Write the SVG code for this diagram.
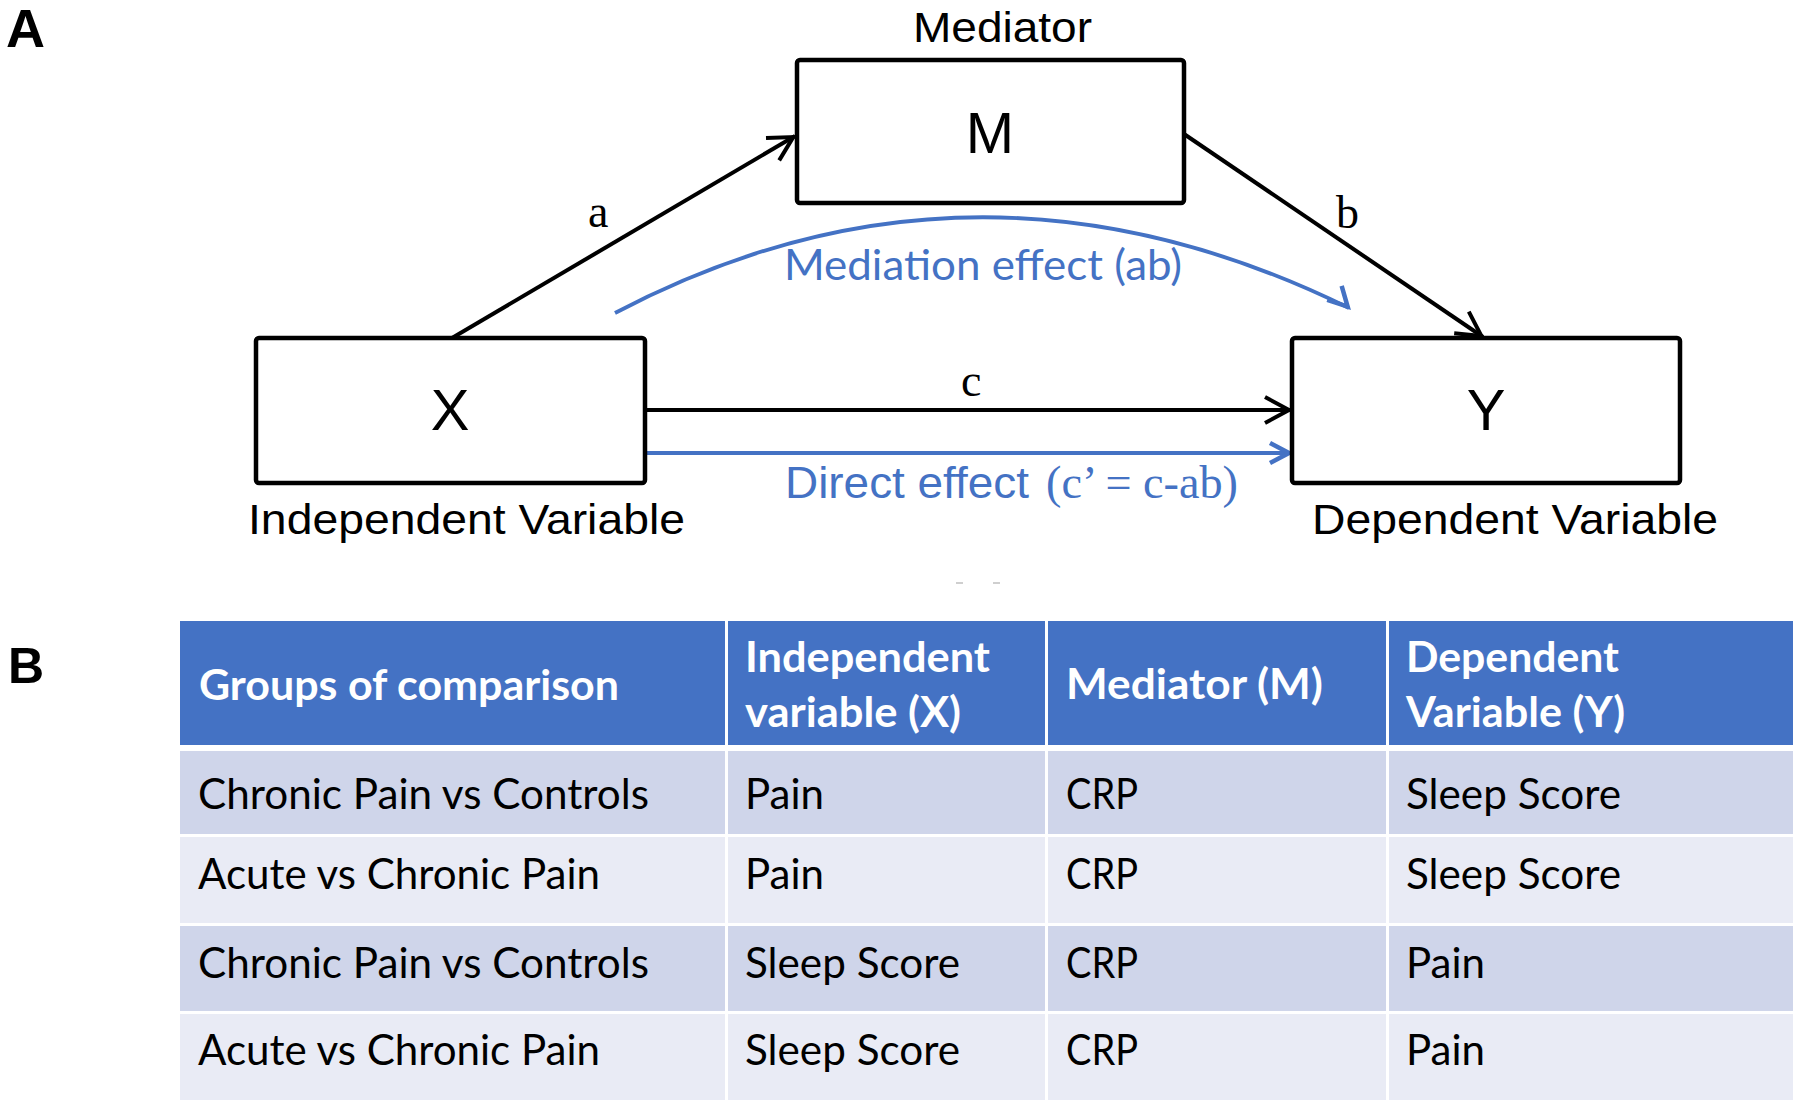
<svg xmlns="http://www.w3.org/2000/svg" width="1800" height="1106" viewBox="0 0 1800 1106">
<defs>
<style>
.box{fill:#fff;stroke:#000;stroke-width:4.5}
.sans{font-family:"Liberation Sans",Arial,sans-serif;fill:#000}
.serif{font-family:"Liberation Serif","Times New Roman",serif;fill:#000}
.cal{font-family:Lato,"Open Sans",sans-serif;font-size:42px}
.edge{fill:none;stroke:#000;stroke-width:4}
.bedge{fill:none;stroke:#4472C4;stroke-width:3.8}
.btxt{fill:#4472C4}
.hdr{fill:#4472C4}
.r1{fill:#CFD5EA}
.r2{fill:#E9EBF5}
.th{fill:#fff;font-weight:bold}
.td{fill:#000}
.panel{font-family:"Liberation Sans",Arial,sans-serif;font-weight:bold;fill:#000}
</style>
<marker id="ah" markerUnits="userSpaceOnUse" markerWidth="40" markerHeight="40" viewBox="-30 -20 40 40" refX="0" refY="0" orient="auto">
<path d="M-26,-13 L-2,0 L-26,13" fill="none" stroke="#000" stroke-width="4"/>
</marker>
<marker id="bh" markerUnits="userSpaceOnUse" markerWidth="40" markerHeight="40" viewBox="-30 -20 40 40" refX="0" refY="0" orient="auto">
<path d="M-21,-10 L-2,0 L-21,10" fill="none" stroke="#4472C4" stroke-width="4.5"/>
</marker>
<marker id="bh2" markerUnits="userSpaceOnUse" markerWidth="40" markerHeight="40" viewBox="-30 -20 40 40" refX="0" refY="0" orient="auto">
<path d="M-21,-10 L-2,0 L-21,10" fill="none" stroke="#4472C4" stroke-width="4.5" transform="rotate(20)"/>
</marker>
</defs>
<rect width="1800" height="1106" fill="#fff"/>

<text class="panel" x="6" y="47" font-size="54">A</text>
<text class="panel" x="8" y="683" font-size="50">B</text>

<g id="connectors">
<path class="edge" d="M452,338 L795,136" marker-end="url(#ah)"/>
<path class="edge" d="M1184,134 L1483,337" marker-end="url(#ah)"/>
<path class="edge" d="M645,410 L1291,410" marker-end="url(#ah)"/>
<path class="bedge" d="M645,453 L1291,453" marker-end="url(#bh)"/>
<path class="bedge" d="M615,313 Q974,124 1349,308" marker-end="url(#bh2)"/>
<text class="serif" x="588" y="227" font-size="46">a</text>
<text class="serif" x="1336" y="228" font-size="46">b</text>
<text class="serif" x="961" y="396" font-size="46">c</text>
<text class="cal btxt" x="784" y="280" textLength="398" lengthAdjust="spacingAndGlyphs">Mediation effect (ab)</text>
<text class="sans btxt" x="785" y="498" font-size="44" textLength="244" lengthAdjust="spacingAndGlyphs">Direct effect</text>
<text class="serif btxt" x="1046" y="498" font-size="47" textLength="192" lengthAdjust="spacingAndGlyphs">(c’ = c-ab)</text>
</g>

<g id="node-M">
<text class="sans" x="913" y="42" font-size="43" textLength="179" lengthAdjust="spacingAndGlyphs">Mediator</text>
<rect class="box" x="797" y="60" width="387" height="143" rx="3"/>
<text class="sans" x="990" y="153" font-size="58" text-anchor="middle">M</text>
</g>

<g id="node-X">
<rect class="box" x="256" y="338" width="389" height="145" rx="3"/>
<text class="sans" x="450" y="430" font-size="58" text-anchor="middle">X</text>
<text class="sans" x="248" y="534" font-size="43" textLength="437" lengthAdjust="spacingAndGlyphs">Independent Variable</text>
</g>

<g id="node-Y">
<rect class="box" x="1292" y="338" width="388" height="145" rx="3"/>
<text class="sans" x="1486" y="430" font-size="58" text-anchor="middle">Y</text>
<text class="sans" x="1312" y="534" font-size="43" textLength="406" lengthAdjust="spacingAndGlyphs">Dependent Variable</text>
</g>

<g id="marks" fill="#cfcfcf">
<rect x="956" y="582" width="7" height="2"/>
<rect x="993" y="582" width="7" height="2"/>
</g>

<g id="table" class="cal">
<rect class="hdr" x="180" y="621" width="545" height="124"/>
<rect class="hdr" x="728" y="621" width="317" height="124"/>
<rect class="hdr" x="1048" y="621" width="338" height="124"/>
<rect class="hdr" x="1389" y="621" width="404" height="124"/>

<rect class="r1" x="180" y="751" width="545" height="83"/>
<rect class="r1" x="728" y="751" width="317" height="83"/>
<rect class="r1" x="1048" y="751" width="338" height="83"/>
<rect class="r1" x="1389" y="751" width="404" height="83"/>

<rect class="r2" x="180" y="837" width="545" height="86"/>
<rect class="r2" x="728" y="837" width="317" height="86"/>
<rect class="r2" x="1048" y="837" width="338" height="86"/>
<rect class="r2" x="1389" y="837" width="404" height="86"/>

<rect class="r1" x="180" y="926" width="545" height="85"/>
<rect class="r1" x="728" y="926" width="317" height="85"/>
<rect class="r1" x="1048" y="926" width="338" height="85"/>
<rect class="r1" x="1389" y="926" width="404" height="85"/>

<rect class="r2" x="180" y="1014" width="545" height="86"/>
<rect class="r2" x="728" y="1014" width="317" height="86"/>
<rect class="r2" x="1048" y="1014" width="338" height="86"/>
<rect class="r2" x="1389" y="1014" width="404" height="86"/>

<text class="th" x="199" y="700" textLength="420" lengthAdjust="spacingAndGlyphs">Groups of comparison</text>
<text class="th" x="745" y="672" textLength="245" lengthAdjust="spacingAndGlyphs">Independent</text>
<text class="th" x="745" y="727" textLength="216" lengthAdjust="spacingAndGlyphs">variable (X)</text>
<text class="th" x="1066" y="699" textLength="257" lengthAdjust="spacingAndGlyphs">Mediator (M)</text>
<text class="th" x="1406" y="672" textLength="213" lengthAdjust="spacingAndGlyphs">Dependent</text>
<text class="th" x="1406" y="727" textLength="219" lengthAdjust="spacingAndGlyphs">Variable (Y)</text>

<text class="td" x="198" y="809" textLength="451" lengthAdjust="spacingAndGlyphs">Chronic Pain vs Controls</text>
<text class="td" x="745" y="809" textLength="79" lengthAdjust="spacingAndGlyphs">Pain</text>
<text class="td" x="1066" y="809" textLength="72" lengthAdjust="spacingAndGlyphs">CRP</text>
<text class="td" x="1406" y="809" textLength="215" lengthAdjust="spacingAndGlyphs">Sleep Score</text>

<text class="td" x="198" y="889" textLength="402" lengthAdjust="spacingAndGlyphs">Acute vs Chronic Pain</text>
<text class="td" x="745" y="889" textLength="79" lengthAdjust="spacingAndGlyphs">Pain</text>
<text class="td" x="1066" y="889" textLength="72" lengthAdjust="spacingAndGlyphs">CRP</text>
<text class="td" x="1406" y="889" textLength="215" lengthAdjust="spacingAndGlyphs">Sleep Score</text>

<text class="td" x="198" y="978" textLength="451" lengthAdjust="spacingAndGlyphs">Chronic Pain vs Controls</text>
<text class="td" x="745" y="978" textLength="215" lengthAdjust="spacingAndGlyphs">Sleep Score</text>
<text class="td" x="1066" y="978" textLength="72" lengthAdjust="spacingAndGlyphs">CRP</text>
<text class="td" x="1406" y="978" textLength="79" lengthAdjust="spacingAndGlyphs">Pain</text>

<text class="td" x="198" y="1065" textLength="402" lengthAdjust="spacingAndGlyphs">Acute vs Chronic Pain</text>
<text class="td" x="745" y="1065" textLength="215" lengthAdjust="spacingAndGlyphs">Sleep Score</text>
<text class="td" x="1066" y="1065" textLength="72" lengthAdjust="spacingAndGlyphs">CRP</text>
<text class="td" x="1406" y="1065" textLength="79" lengthAdjust="spacingAndGlyphs">Pain</text>
</g>
</svg>
